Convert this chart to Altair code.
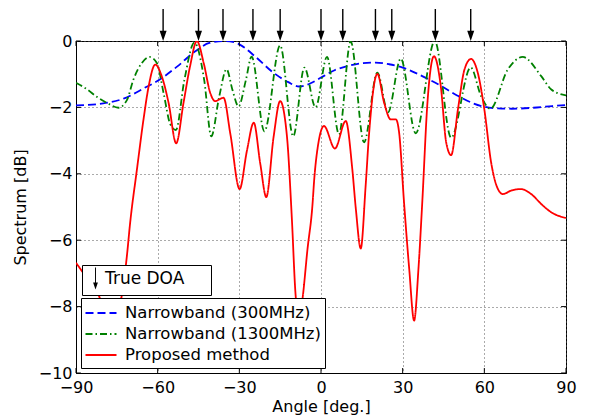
import altair as alt
import pandas as pd

# ---------------- data ----------------
angle_ticks = [-90, -60, -30, 0, 30, 60, 90]
db_ticks = [-10, -8, -6, -4, -2, 0]

series_names = ["Narrowband (300MHz)", "Narrowband (1300MHz)", "Proposed method"]
series_colors = ["#0000ff", "#008000", "#ff0000"]
series_dash = [[8, 4], [7, 3, 1.5, 3], [1, 0]]

doa_label = "True DOA"
doa_angles = [-58, -45, -36, -25, -15, 0, 8, 20, 26, 42, 55]

nb300_x = [-90, -80, -72, -65, -60, -53, -46, -41, -35, -30, -24, -18, -12, -8, -4, 0, 5,
           10, 15, 20, 25, 30, 37, 44, 50, 56, 60, 65, 70, 78, 85, 90]
nb300_y = [-1.94, -1.88, -1.72, -1.42, -1.2, -0.78, -0.3, -0.06, 0.0, -0.1, -0.48, -0.92,
           -1.24, -1.37, -1.28, -1.1, -0.88, -0.75, -0.67, -0.65, -0.7, -0.8, -1.05, -1.35,
           -1.64, -1.88, -1.98, -2.03, -2.04, -2.01, -1.96, -1.93]

nb1300_x = [-90, -86, -82.4, -78.7, -74.4, -71.3, -68.9, -65.8, -63, -60.3, -57.8, -55.4,
            -53.3, -50.2, -46.5, -42.9, -40.3, -37.4, -34.7, -32.5, -30.3, -27.6, -25.5,
            -20.8, -15, -10.2, -6.1, -2, 2.2, 6.6, 10.9, 15.8, 20.7, 24.6, 29.3, 34.8, 41.8,
            47.8, 55, 58.8, 62.2, 68.6, 74.1, 80.9, 84.6, 90]
nb1300_y = [-1.26, -1.45, -1.68, -1.86, -2.01, -1.78, -1.16, -0.66, -0.48, -0.66, -1.58, -2.5,
            -2.68, -1.18, -0.05, -1.18, -2.87, -1.68, -0.85, -1.48, -1.97, -1.18, -0.47,
            -2.72, -0.13, -2.87, -0.8, -2.0, -0.48, -2.81, -0.01, -3.05, -0.95, -2.15, -0.53,
            -2.78, 0.0, -2.91, -0.8, -1.66, -2.04, -0.86, -0.48, -1.06, -1.46, -1.64]

prop_x = [-90, -86, -82, -77, -73, -71.3, -70.1, -67.6, -65.2, -63.3, -60.9, -58.5, -56,
          -53.2, -50.5, -48.1, -45.6, -43.1, -40.7, -38.9, -35.8, -33.3, -29.9, -27.2,
          -24.7, -22.3, -20.1, -17.4, -15, -12.5, -10.7, -9.4, -8, -6.7, -5, -3.1, -2.5,
          -1.2, 1.1, 5.1, 9.1, 11.5, 12.8, 14.6, 16.4, 17.6, 20.7, 23.2, 25.6, 27.5, 28.7,
          30.5, 32.4, 34.2, 35.8, 37.2, 39.1, 41.5, 44, 46, 47.8, 50.3, 52.7, 55.1, 57.6,
          60, 62.5, 65, 66.8, 70, 73.5, 77.2, 80.9, 84.6, 90]
prop_y = [-6.68, -7.14, -7.6, -8.6, -7.57, -6.47, -5.47, -3.86, -2.36, -1.36, -0.71, -1.06,
          -1.86, -3.08, -1.86, -0.76, 0.0, -0.66, -1.56, -1.81, -1.71, -2.8, -4.46, -3.3,
          -2.46, -3.7, -4.7, -2.88, -1.81, -2.88, -5.36, -7.57, -8.4, -7.7, -6.3, -4.9,
          -4.18, -3.2, -2.56, -3.24, -2.41, -3.86, -5.06, -6.25, -4.36, -2.86, -0.99, -1.86,
          -2.36, -2.36, -2.76, -4.86, -6.86, -8.42, -6.86, -4.86, -1.86, -0.46, -1.36, -3.06,
          -3.44, -2.06, -0.86, -0.54, -0.96, -2.06, -3.66, -4.46, -4.61, -4.5, -4.46, -4.61,
          -4.91, -5.16, -5.33]

rows = []
for name, xs, ys in [(series_names[0], nb300_x, nb300_y),
                     (series_names[1], nb1300_x, nb1300_y),
                     (series_names[2], prop_x, prop_y)]:
    for a, d in zip(xs, ys):
        rows.append({"angle": a, "db": d, "series": name})
df = pd.DataFrame(rows)

# legend key: no-break spaces (kept alive by a trailing zero-width space) widen the box
DOA_KEY = doa_label + "\u00a0" * 4 + "\u200b"
doa_df = pd.DataFrame({"angle": doa_angles, "label": [DOA_KEY] * len(doa_angles)})
xt_df = pd.DataFrame({"angle": angle_ticks})
yt_df = pd.DataFrame({"db": db_ticks})

# ---------------- style ----------------
FONT = "DejaVu Sans"
X_TITLE = "Angle [deg.]"
Y_TITLE = "Spectrum [dB]"
# filled down-pointing arrow (thin shaft + head)
ARROW = "M-0.08,-1.83L0.08,-1.83L0.08,0.66L0.4,0.66L0,1.83L-0.4,0.66L-0.08,0.66Z"
LEG_LINE = "M-1.55,0H1.55"

x_scale = alt.Scale(domain=[-90, 90], nice=False, zero=False)
y_scale = alt.Scale(domain=[-10, 0], nice=False, zero=False)

x_axis = alt.Axis(values=angle_ticks, title=X_TITLE, grid=True, gridDash=[1, 3],
                  gridColor="#555555", gridWidth=1, tickSize=0, labelPadding=6,
                  titlePadding=3, labelFlush=False, labelOverlap=False, domainColor="black")
y_axis = alt.Axis(values=db_ticks, title=Y_TITLE, grid=True, gridDash=[1, 3],
                  gridColor="#555555", gridWidth=1, tickSize=0, labelPadding=4,
                  titlePadding=10, labelOverlap=False, domainColor="black")

line_legend = alt.Legend(title=None, orient="none", legendX=5, legendY=257,
                         symbolType=LEG_LINE, symbolSize=400, symbolStrokeWidth=1.8,
                         symbolOffset=5,
                         labelFontSize=16.5, labelFont=FONT, labelColor="black",
                         labelLimit=400, labelOffset=13, rowPadding=1, padding=4,
                         fillColor="white", strokeColor="black")
doa_legend = alt.Legend(title=None, orient="none", legendX=6, legendY=224,
                        symbolSize=144, symbolFillColor="black",
                        symbolStrokeWidth=0, symbolOpacity=1, symbolOffset=0,
                        labelFontSize=17, labelFont=FONT, labelColor="black", labelOffset=1,
                        labelLimit=400, padding=5, fillColor="white", strokeColor="black")

lines = alt.Chart(df).mark_line(strokeWidth=1.8, interpolate="monotone", clip=True).encode(
    x=alt.X("angle:Q", scale=x_scale, axis=x_axis),
    y=alt.Y("db:Q", scale=y_scale, axis=y_axis),
    color=alt.Color("series:N", scale=alt.Scale(domain=series_names, range=series_colors),
                    legend=line_legend, sort=series_names),
    strokeDash=alt.StrokeDash("series:N", scale=alt.Scale(domain=series_names, range=series_dash),
                              legend=line_legend, sort=series_names),
)

arrows = alt.Chart(doa_df).mark_point(filled=True, size=306, clip=False, opacity=1,
                                      strokeWidth=0, fill="black").encode(
    x=alt.X("angle:Q", scale=x_scale, title=X_TITLE),
    y=alt.YDatum(0.48, scale=y_scale, title=Y_TITLE),
    shape=alt.Shape("label:N", scale=alt.Scale(domain=[DOA_KEY], range=[ARROW]),
                    legend=doa_legend),
)

tick_style = dict(color="black", strokeWidth=1)
bottom_ticks = alt.Chart(xt_df).mark_rule(**tick_style).encode(
    x=alt.X("angle:Q", scale=x_scale, title=X_TITLE),
    y=alt.YDatum(-10, scale=y_scale, title=Y_TITLE), y2=alt.Y2Datum(-9.85))
top_ticks = alt.Chart(xt_df).mark_rule(**tick_style).encode(
    x=alt.X("angle:Q", scale=x_scale, title=X_TITLE),
    y=alt.YDatum(0, scale=y_scale, title=Y_TITLE), y2=alt.Y2Datum(-0.15))
left_ticks = alt.Chart(yt_df).mark_rule(**tick_style).encode(
    y=alt.Y("db:Q", scale=y_scale, title=Y_TITLE),
    x=alt.XDatum(-90, scale=x_scale, title=X_TITLE), x2=alt.X2Datum(-88.2))
right_ticks = alt.Chart(yt_df).mark_rule(**tick_style).encode(
    y=alt.Y("db:Q", scale=y_scale, title=Y_TITLE),
    x=alt.XDatum(90, scale=x_scale, title=X_TITLE), x2=alt.X2Datum(88.2))

chart = alt.layer(lines, bottom_ticks, top_ticks, left_ticks, right_ticks, arrows).properties(
    width=490, height=332,
    padding={"left": 68, "top": 33, "right": 14, "bottom": 45},
    autosize=alt.AutoSizeParams(type="none"),
    background="white",
).configure_view(stroke="black", strokeWidth=1).configure_axis(
    labelFont=FONT, titleFont=FONT, labelFontSize=16, titleFontSize=16,
    titleFontWeight="normal", labelColor="black", titleColor="black",
)

chart.save("out.html", embed_options={"renderer": "svg", "actions": False})
